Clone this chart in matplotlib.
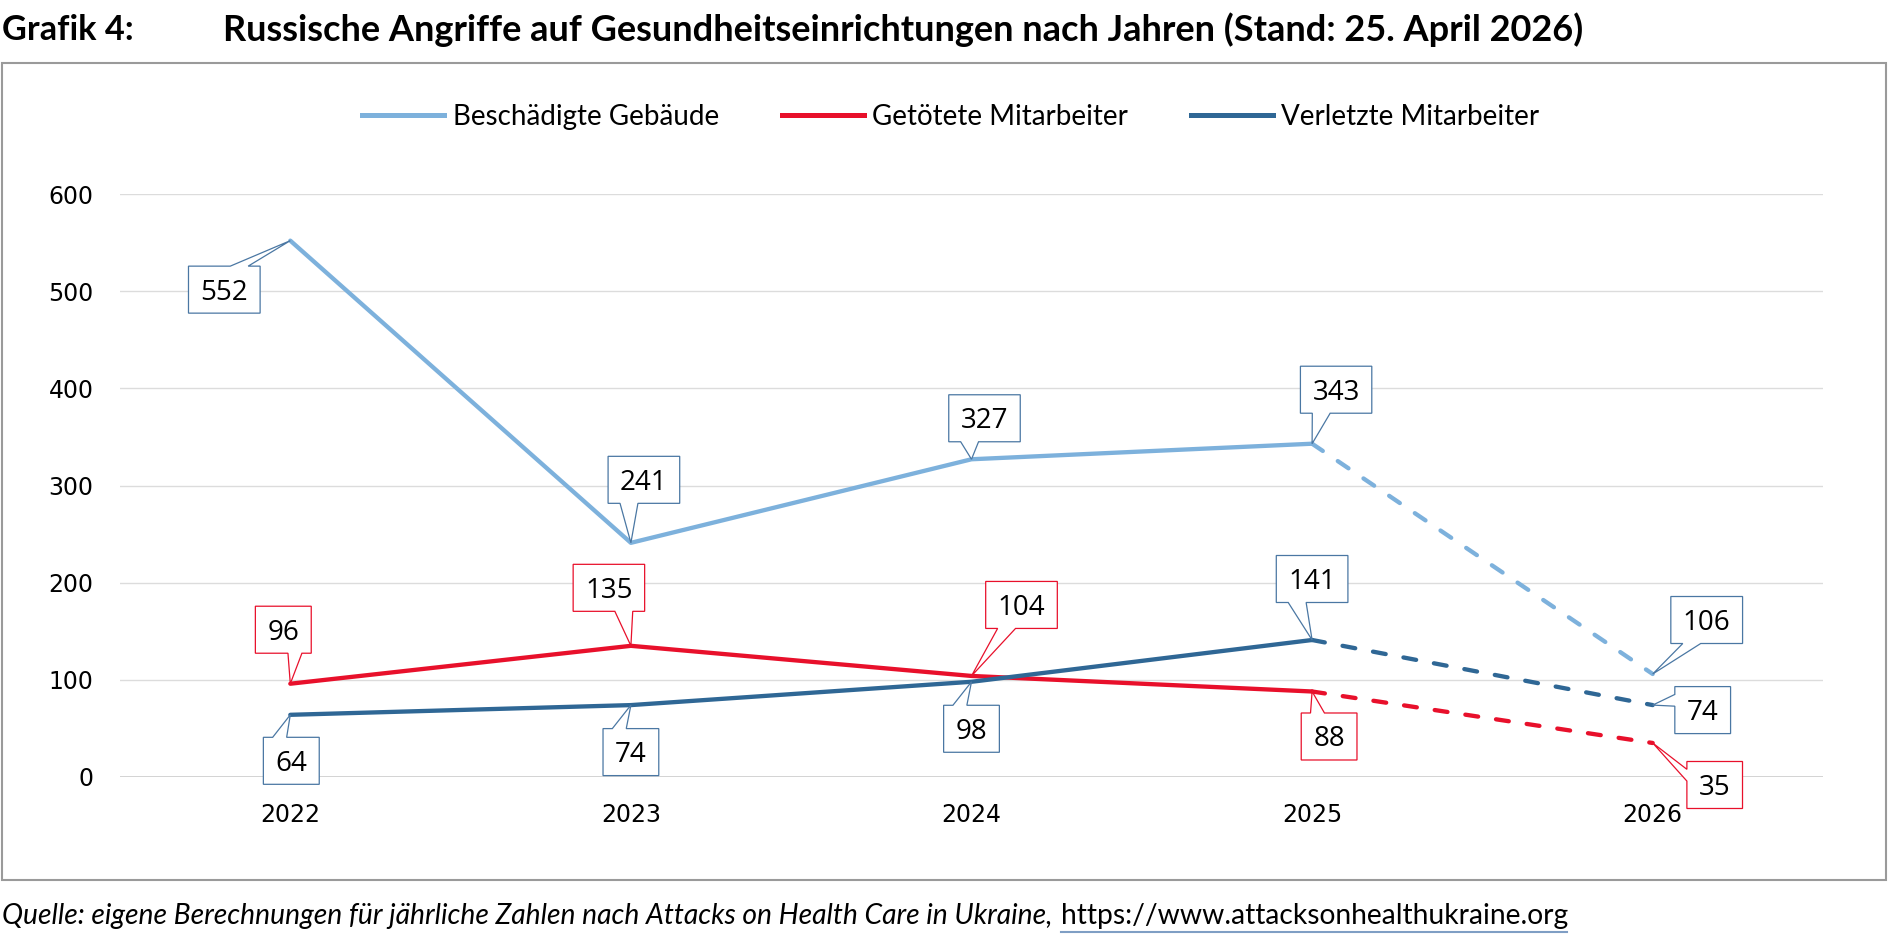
import matplotlib
matplotlib.use("Agg")
import matplotlib.pyplot as plt
from matplotlib.patches import Polygon, Rectangle
from matplotlib.lines import Line2D
from matplotlib.transforms import IdentityTransform

# ---------------- data ----------------
years = ["2022", "2023", "2024", "2025", "2026"]
buildings = [552, 241, 327, 343, 106]
killed = [96, 135, 104, 88, 35]
injured = [64, 74, 98, 141, 74]
series_names = ["Beschädigte Gebäude", "Getötete Mitarbeiter", "Verletzte Mitarbeiter"]
yticks = [0, 100, 200, 300, 400, 500, 600]
title_label = "Grafik 4:"
title_text = "Russische Angriffe auf Gesundheitseinrichtungen nach Jahren (Stand: 25. April 2026)"
source_text = "Quelle: eigene Berechnungen für jährliche Zahlen nach Attacks on Health Care in Ukraine,"
source_url = "https://www.attacksonhealthukraine.org"

# ---------------- styles / layout ----------------
line_colors = ["#7DB1DC", "#E8102B", "#2F6795"]
box_edge = ["#4A77A3", "#E8102B", "#4A77A3"]
# callout box centre offsets from the data point, in pixels (dx right, dy up)
label_offsets = [
    [(-66, -49), (13, 63), (13, 41), (24, 54), (54, 54)],
    [(-7, 54), (-22, 58), (50, 71), (17, -45), (62, -42)],
    [(1, -46), (0, -47), (0, -47), (0, 61), (50, -5)],
]

W, H = 1890, 942
fig = plt.figure(figsize=(W / 100, H / 100), dpi=100)
fig.patch.set_facecolor("white")

ax = fig.add_axes([120 / W, 1 - 777 / H, (1823 - 120) / W, (777 - 194) / H])
ax.set_xlim(-0.5, len(years) - 0.5)
ax.set_ylim(0, 600)
ax.set_yticks(yticks)
ax.set_xticks(range(len(years)))
ax.set_xticklabels(years)
for s in ax.spines.values():
    s.set_visible(False)
ax.yaxis.grid(True, color="#dcdcdc", lw=1.0)
ax.set_axisbelow(True)
ax.axhline(0, color="#d0d0d0", lw=2.0, zorder=1)
ax.tick_params(axis="both", length=0, labelsize=17, colors="black")
ax.tick_params(axis="y", pad=19)
ax.tick_params(axis="x", pad=19)

all_series = [buildings, killed, injured]
xs = list(range(len(years)))
handles = []
for vals, col in zip(all_series, line_colors):
    ax.plot(xs[:4], vals[:4], color=col, lw=3.1, solid_capstyle="round",
            solid_joinstyle="round", zorder=3)
    ax.plot(xs[3:], vals[3:], color=col, lw=3.1, linestyle=(0, (3.0, 4.2)),
            dash_capstyle="round", zorder=3)
    handles.append(Line2D([], [], color=col, lw=3.6))

leg = fig.legend(handles, series_names, loc="center", bbox_to_anchor=(951 / W, 1 - 117 / H),
                 ncol=3, frameon=False, handlelength=2.95, handletextpad=0.3,
                 columnspacing=2.27, prop={"family": "Lato", "size": 20})

# outer frame
fig.add_artist(Rectangle((2 / W, 1 - 880 / H), (1886 - 2) / W, (880 - 63) / H,
                         transform=fig.transFigure, fill=False, ec="#9a9a9a", lw=1.5))

# title
t1 = fig.text(2 / W, 1 - 30 / H, title_label, family="Lato", weight="bold", size=22,
              va="center", ha="left")
t2 = fig.text(223 / W, 1 - 30 / H, title_text, family="Lato", weight="bold", size=22,
              va="center", ha="left")
# footer
f1 = fig.text(2 / W, 1 - 916 / H, source_text, family="Lato", style="italic", size=17,
              va="center", ha="left")
f2 = fig.text(1061 / W, 1 - 916 / H, source_url, family="Lato", size=17,
              va="center", ha="left")

fig.canvas.draw()
renderer = fig.canvas.get_renderer()


def fit(t, target):
    w = t.get_window_extent(renderer).width
    t.set_fontsize(t.get_fontsize() * target / w)


fit(t1, 131)
fit(t2, 1358)
fit(f1, 1050)
fit(f2, 506)
fig.add_artist(Line2D([1061 / W, 1567 / W], [1 - 932 / H, 1 - 932 / H],
                      transform=fig.transFigure, color="#7f9ec4", lw=1.5))

fig.canvas.draw()
renderer = fig.canvas.get_renderer()

FS = 20
digit_h = 0.714 * FS * 100 / 72
BOX_H = 47
for si, vals in enumerate(all_series):
    for i, v in enumerate(vals):
        px, py = ax.transData.transform((i, v))
        dx, dy = label_offsets[si][i]
        cx, cy = px + dx, py + dy
        txt = fig.text(cx, cy - digit_h / 2, str(v), transform=IdentityTransform(),
                       family="Open Sans", size=FS, ha="center", va="baseline",
                       color="black", zorder=7)
        tw = txt.get_window_extent(renderer).width
        w = tw + 24
        h = BOX_H
        x0, x1 = cx - w / 2, cx + w / 2
        y0, y1 = cy - h / 2, cy + h / 2
        tx, ty = px - cx, py - cy
        tip = (px, py)
        if abs(tx) / w > abs(ty) / h:
            if ty > 0:
                ya, yb = y1 - 5 / 12 * h, y1 - 2 / 12 * h
            else:
                ya, yb = y0 + 2 / 12 * h, y0 + 5 / 12 * h
            if tx < 0:
                verts = [(x0, y1), (x0, yb), tip, (x0, ya), (x0, y0), (x1, y0), (x1, y1)]
            else:
                verts = [(x1, y0), (x1, ya), tip, (x1, yb), (x1, y1), (x0, y1), (x0, y0)]
        else:
            if tx <= 0:
                xa, xb = x0 + 2 / 12 * w, x0 + 5 / 12 * w
            else:
                xa, xb = x0 + 7 / 12 * w, x0 + 10 / 12 * w
            if ty > 0:
                verts = [(x0, y0), (x1, y0), (x1, y1), (xb, y1), tip, (xa, y1), (x0, y1)]
            else:
                verts = [(x0, y1), (x0, y0), (xa, y0), tip, (xb, y0), (x1, y0), (x1, y1)]
        fig.add_artist(Polygon(verts, closed=True, transform=IdentityTransform(),
                               fc="white", ec=box_edge[si], lw=0.9, zorder=6))

fig.savefig("out.png", dpi=100, facecolor="white")
